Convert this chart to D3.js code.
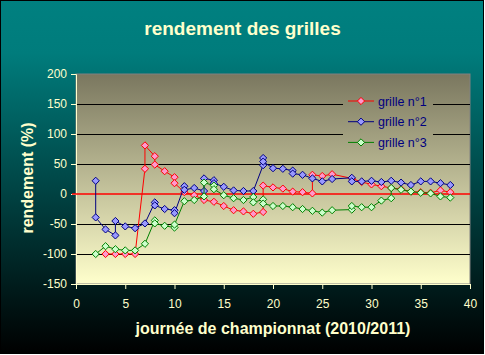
<!DOCTYPE html>
<html><head><meta charset="utf-8">
<script src="https://cdn.jsdelivr.net/npm/d3@7"></script>
<style>html,body{margin:0;padding:0;background:#fff;}svg{display:block;}</style>
</head><body>
<script>
// ---- data ----
const xTicks = [0,5,10,15,20,25,30,35,40];
const yTicks = [-150,-100,-50,0,50,100,150,200];
const seriesNames = ["grille n°1","grille n°2","grille n°3"];
const x1 = [3,4,5,6,7,7,8,8,9,10,10,11,12,13,14,15,16,17,18,19,19,20,21,22,23,24,24,25,26,28,29,30,31,32,33,34,35,36,37,38];
const y1 = [-100,-100,-100,-100,42,81,63,49,38,28,18,3,-2,-10,-13,-20,-27,-29,-33,-30,14,11,9,4,3,1,32,30,33,26,20,16,13,10,8,4,3,2,6,3];
const x2 = [2,2,3,4,4,5,6,7,8,8,9,10,10,11,11,12,13,13,14,14,15,16,17,18,19,19,19,20,21,22,22,23,24,25,26,28,28,29,30,31,32,33,34,35,36,37,38];
const y2 = [22,-39,-59,-69,-45,-54,-57,-49,-14,-19,-25,-27,-32,13,7,10,5,26,23,18,12,6,5,5,48,60,54,43,42,39,34,32,26,21,25,27,21,21,22,20,22,19,15,21,21,18,15];
const x3 = [2,3,4,5,6,7,8,8,9,10,10,11,12,13,13,14,14,15,16,17,18,18,19,19,20,21,22,23,24,25,26,28,28,29,30,31,32,32,33,34,35,36,37,38];
const y3 = [-100,-87,-92,-94,-94,-83,-44,-49,-53,-56,-51,-12,-10,-4,19,14,8,-2,-7,-10,-5,-14,-9,-16,-20,-20,-22,-25,-28,-31,-27,-26,-20,-22,-22,-11,-7,10,7,4,2,1,-4,-6];

const W = 485, H = 355;
const L = 76, R = 470, T = 74, B = 284;
const svg = d3.select("body").append("svg").attr("width", W).attr("height", H);
const defs = svg.append("defs");
const bg = defs.append("linearGradient").attr("id","bg").attr("x1",0).attr("y1",0).attr("x2",0).attr("y2",1);
bg.append("stop").attr("offset","0%").attr("stop-color","#008080");
bg.append("stop").attr("offset","15%").attr("stop-color","#007c7c");
bg.append("stop").attr("offset","100%").attr("stop-color","#000000");
const pg = defs.append("linearGradient").attr("id","pg").attr("gradientUnits","userSpaceOnUse")
  .attr("x1",0).attr("y1",T).attr("x2",0).attr("y2",B);
pg.append("stop").attr("offset","0%").attr("stop-color","#7a775f");
pg.append("stop").attr("offset","100%").attr("stop-color","#ffffcc");

svg.append("rect").attr("x",0.5).attr("y",0.5).attr("width",W-2).attr("height",H-2)
  .attr("fill","url(#bg)").attr("stroke","#000").attr("stroke-width",1);

const x = d3.scaleLinear().domain([0,40]).range([L,R]);
const y = d3.scaleLinear().domain([-150,200]).range([B,T]);

svg.append("rect").attr("x",L).attr("y",T).attr("width",R-L).attr("height",B-T)
  .attr("fill","url(#pg)").attr("stroke","#808080").attr("stroke-width",1);

// gridlines
svg.append("g").selectAll("line").data(yTicks.filter(v=>v!==0 && v!==-150 && v!==200)).join("line")
  .attr("x1",L).attr("x2",R).attr("y1",d=>Math.round(y(d))+0.5).attr("y2",d=>Math.round(y(d))+0.5)
  .attr("stroke","#000").attr("stroke-width",1);

// axes
const axColor = "#ffffcc";
const gy = svg.append("g").attr("transform",`translate(${L},0)`)
  .call(d3.axisLeft(y).tickValues(yTicks).tickSize(5).tickPadding(4).tickFormat(d3.format("d")));
const gx = svg.append("g").attr("transform",`translate(0,${B})`)
  .call(d3.axisBottom(x).tickValues(xTicks).tickSize(5).tickPadding(10));
[gx,gy].forEach(g=>{
  g.select(".domain").attr("stroke",axColor);
  g.selectAll(".tick line").attr("stroke",axColor);
  g.selectAll("text").attr("fill",axColor).attr("font-family","Liberation Sans, Arial, sans-serif").attr("font-size",12);
});
gy.selectAll("text").text(d=>String(d).replace("−","-"));

// legend box (same fill as plot so it hides gridlines)
svg.append("rect").attr("x",343).attr("y",89).attr("width",90).attr("height",63).attr("fill","url(#pg)");

// zero line
svg.append("line").attr("x1",72).attr("x2",R).attr("y1",y(0)).attr("y2",y(0))
  .attr("stroke","#ff0000").attr("stroke-width",1.5);

const styles = [
  {line:"#ff0000", fill:"#ff99cc", stroke:"#ff0000"},
  {line:"#000080", fill:"#9999ff", stroke:"#000080"},
  {line:"#008000", fill:"#ccffcc", stroke:"#008000"}
];
const series = [[x1,y1],[x2,y2],[x3,y3]];
const diamond = r => `M0,${-r}L${r},0L0,${r}L${-r},0Z`;
const lineGen = d3.line().x(d=>x(d[0])).y(d=>y(d[1]));
series.forEach(([xs,ys],i)=>{
  const pts = xs.map((v,j)=>[v,ys[j]]);
  const g = svg.append("g");
  g.append("path").attr("d",lineGen(pts)).attr("fill","none").attr("stroke",styles[i].line).attr("stroke-width",1);
  g.selectAll("path.m").data(pts).join("path").attr("class","m")
    .attr("d",diamond(3.6)).attr("transform",d=>`translate(${x(d[0])},${y(d[1])})`)
    .attr("fill",styles[i].fill).attr("stroke",styles[i].stroke).attr("stroke-width",1);
});

// legend entries
const lg = svg.append("g");
seriesNames.forEach((n,i)=>{
  const cy = 101 + i*20.7;
  lg.append("line").attr("x1",348).attr("x2",374).attr("y1",cy).attr("y2",cy).attr("stroke",styles[i].line);
  lg.append("path").attr("d",diamond(3.6)).attr("transform",`translate(361,${cy})`)
    .attr("fill",styles[i].fill).attr("stroke",styles[i].stroke);
  lg.append("text").attr("x",378).attr("y",cy+4.5).text(n)
    .attr("fill","#000080").attr("font-family","Liberation Sans, Arial, sans-serif").attr("font-size",12.5);
});

// titles
svg.append("text").attr("x",242.5).attr("y",35).attr("text-anchor","middle")
  .attr("fill","#ffffcc").attr("font-family","Liberation Sans, Arial, sans-serif")
  .attr("font-weight","bold").attr("font-size",19).text("rendement des grilles");
svg.append("text").attr("x",273).attr("y",334).attr("text-anchor","middle")
  .attr("fill","#ffffcc").attr("font-family","Liberation Sans, Arial, sans-serif")
  .attr("font-weight","bold").attr("font-size",16).text("journée de championnat (2010/2011)");
svg.append("text").attr("transform",`translate(33,178) rotate(-90)`).attr("text-anchor","middle")
  .attr("fill","#ffffcc").attr("font-family","Liberation Sans, Arial, sans-serif")
  .attr("font-weight","bold").attr("font-size",16).text("rendement (%)");
</script>
</body></html>
